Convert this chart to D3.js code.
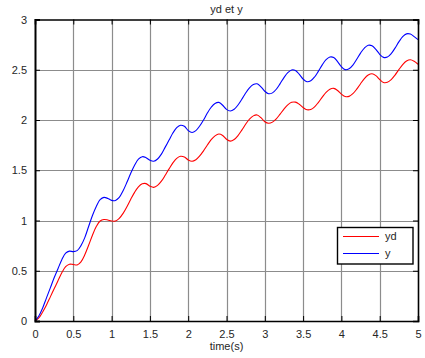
<!DOCTYPE html>
<html>
<head>
<meta charset="utf-8">
<script src="https://cdn.jsdelivr.net/npm/d3@7"></script>
<style>
  html, body { margin: 0; padding: 0; background: #fff; }
  svg { display: block; }
  text { font-family: "Liberation Sans", Arial, sans-serif; }
</style>
</head>
<body>
<svg id="chart" width="425" height="358"></svg>
<script>
// ---- data ----
const title = "yd et y";
const xLabel = "time(s)";
const seriesNames = ["yd", "y"];
const xTicks = [0, 0.5, 1, 1.5, 2, 2.5, 3, 3.5, 4, 4.5, 5];
const xTickLabels = ["0", "0.5", "1", "1.5", "2", "2.5", "3", "3.5", "4", "4.5", "5"];
const yTicks = [0, 0.5, 1, 1.5, 2, 2.5, 3];
const yTickLabels = ["0", "0.5", "1", "1.5", "2", "2.5", "3"];

const time = [
  0.00,0.05,0.10,0.15,0.20,0.25,0.30,0.35,0.40,0.45,
  0.50,0.55,0.60,0.65,0.70,0.75,0.80,0.85,0.90,0.95,
  1.00,1.05,1.10,1.15,1.20,1.25,1.30,1.35,1.40,1.45,
  1.50,1.55,1.60,1.65,1.70,1.75,1.80,1.85,1.90,1.95,
  2.00,2.05,2.10,2.15,2.20,2.25,2.30,2.35,2.40,2.45,
  2.50,2.55,2.60,2.65,2.70,2.75,2.80,2.85,2.90,2.95,
  3.00,3.05,3.10,3.15,3.20,3.25,3.30,3.35,3.40,3.45,
  3.50,3.55,3.60,3.65,3.70,3.75,3.80,3.85,3.90,3.95,
  4.00,4.05,4.10,4.15,4.20,4.25,4.30,4.35,4.40,4.45,
  4.50,4.55,4.60,4.65,4.70,4.75,4.80,4.85,4.90,4.95,
  5.00
];

const yd = [
  0.000,0.030,0.090,0.160,0.240,0.320,0.400,0.480,0.540,0.565,
  0.562,0.558,0.589,0.659,0.753,0.854,0.940,0.995,1.010,1.005,
  0.995,0.995,1.021,1.071,1.137,1.211,1.280,1.334,1.365,1.367,
  1.342,1.330,1.349,1.391,1.450,1.514,1.573,1.618,1.639,1.632,
  1.603,1.590,1.605,1.642,1.693,1.751,1.804,1.842,1.860,1.846,
  1.808,1.790,1.806,1.845,1.899,1.958,2.009,2.041,2.050,2.023,
  1.983,1.967,1.979,2.012,2.059,2.108,2.151,2.176,2.178,2.156,
  2.124,2.102,2.105,2.131,2.176,2.228,2.276,2.307,2.315,2.294,
  2.258,2.233,2.235,2.262,2.307,2.361,2.412,2.447,2.460,2.442,
  2.403,2.373,2.375,2.402,2.447,2.501,2.552,2.587,2.600,2.585,
  2.555
];

const y = [
  0.000,0.050,0.130,0.230,0.330,0.430,0.520,0.610,0.675,0.695,
  0.690,0.700,0.750,0.830,0.940,1.050,1.140,1.207,1.230,1.220,
  1.200,1.200,1.230,1.296,1.380,1.470,1.550,1.610,1.635,1.625,
  1.600,1.590,1.612,1.660,1.730,1.800,1.870,1.924,1.948,1.937,
  1.895,1.875,1.894,1.940,2.000,2.069,2.127,2.165,2.175,2.147,
  2.106,2.090,2.107,2.149,2.206,2.268,2.320,2.353,2.360,2.330,
  2.286,2.261,2.270,2.306,2.362,2.422,2.471,2.498,2.493,2.455,
  2.407,2.381,2.390,2.428,2.486,2.549,2.600,2.627,2.622,2.581,
  2.530,2.501,2.510,2.547,2.605,2.666,2.716,2.744,2.739,2.703,
  2.654,2.623,2.626,2.660,2.715,2.777,2.829,2.857,2.855,2.830,
  2.800
];

// ---- layout ----
const svg = d3.select("#chart");
const mLeft = 35, mRight = 418, mTop = 19.5, mBottom = 321;
const xScale = d3.scaleLinear().domain([0, 5]).range([mLeft, mRight]);
const yScale = d3.scaleLinear().domain([0, 3]).range([mBottom, mTop]);
const textColor = "#262626";

// grid
const grid = svg.append("g");
grid.selectAll(".vg").data(xTicks.slice(1, -1)).enter().append("line")
  .attr("x1", d => Math.round(xScale(d)) + 0.5).attr("x2", d => Math.round(xScale(d)) + 0.5)
  .attr("y1", mTop).attr("y2", mBottom)
  .attr("stroke", "#8c8c8c").attr("stroke-width", 1.2);
grid.selectAll(".hg").data(yTicks.slice(1, -1)).enter().append("line")
  .attr("y1", d => Math.round(yScale(d)) + 0.5).attr("y2", d => Math.round(yScale(d)) + 0.5)
  .attr("x1", mLeft).attr("x2", mRight)
  .attr("stroke", "#8c8c8c").attr("stroke-width", 1.2);

// lines
const line = d3.line()
  .x((d, i) => xScale(time[i]))
  .y(d => yScale(d))
  .curve(d3.curveCatmullRom.alpha(0.5));

svg.append("path").datum(yd)
  .attr("d", line).attr("fill", "none").attr("stroke", "#ff0000").attr("stroke-width", 1.1);
svg.append("path").datum(y)
  .attr("d", line).attr("fill", "none").attr("stroke", "#0000ff").attr("stroke-width", 1.1);

// axes box with inner ticks on all sides
const xAxisB = d3.axisBottom(xScale).tickValues(xTicks).tickSize(-5).tickPadding(9)
  .tickFormat((d, i) => xTickLabels[i]);
const gx = svg.append("g").attr("transform", `translate(0,${mBottom})`).call(xAxisB);
const xAxisT = d3.axisTop(xScale).tickValues(xTicks).tickSize(-5).tickFormat("");
const gxt = svg.append("g").attr("transform", `translate(0,${mTop})`).call(xAxisT);
const yAxisL = d3.axisLeft(yScale).tickValues(yTicks).tickSize(-5).tickPadding(8)
  .tickFormat((d, i) => yTickLabels[i]);
const gy = svg.append("g").attr("transform", `translate(${mLeft},0)`).call(yAxisL);
const yAxisR = d3.axisRight(yScale).tickValues(yTicks).tickSize(-5).tickFormat("");
const gyr = svg.append("g").attr("transform", `translate(${mRight},0)`).call(yAxisR);

[gx, gxt, gy, gyr].forEach(g => {
  g.select(".domain").attr("stroke", "#000").attr("stroke-width", 1.6);
  g.selectAll(".tick line").attr("stroke", "#000").attr("stroke-width", 1);
  g.selectAll("text").attr("font-size", 11).attr("fill", textColor)
    .attr("font-family", "Liberation Sans, Arial, sans-serif");
});
gy.select(".domain").attr("stroke-width", 2);

// title and x label
svg.append("text").attr("x", (mLeft + mRight) / 2).attr("y", 12.5)
  .attr("text-anchor", "middle").attr("font-size", 11).attr("fill", textColor).text(title);
svg.append("text").attr("x", (mLeft + mRight) / 2).attr("y", 350)
  .attr("text-anchor", "middle").attr("font-size", 11).attr("fill", textColor).text(xLabel);

// legend
const lg = svg.append("g");
lg.append("rect").attr("x", 337.5).attr("y", 227.5).attr("width", 75.5).attr("height", 36.5)
  .attr("fill", "#fff").attr("stroke", "#000").attr("stroke-width", 1.4);
const colors = ["#ff0000", "#0000ff"];
const legY = [236, 253];
seriesNames.forEach((n, i) => {
  lg.append("line").attr("x1", 343).attr("x2", 379).attr("y1", legY[i] + 0.5).attr("y2", legY[i] + 0.5)
    .attr("stroke", colors[i]).attr("stroke-width", 1.1);
  lg.append("text").attr("x", 385).attr("y", legY[i] + 4).attr("font-size", 11)
    .attr("fill", textColor).text(n);
});
</script>
</body>
</html>
